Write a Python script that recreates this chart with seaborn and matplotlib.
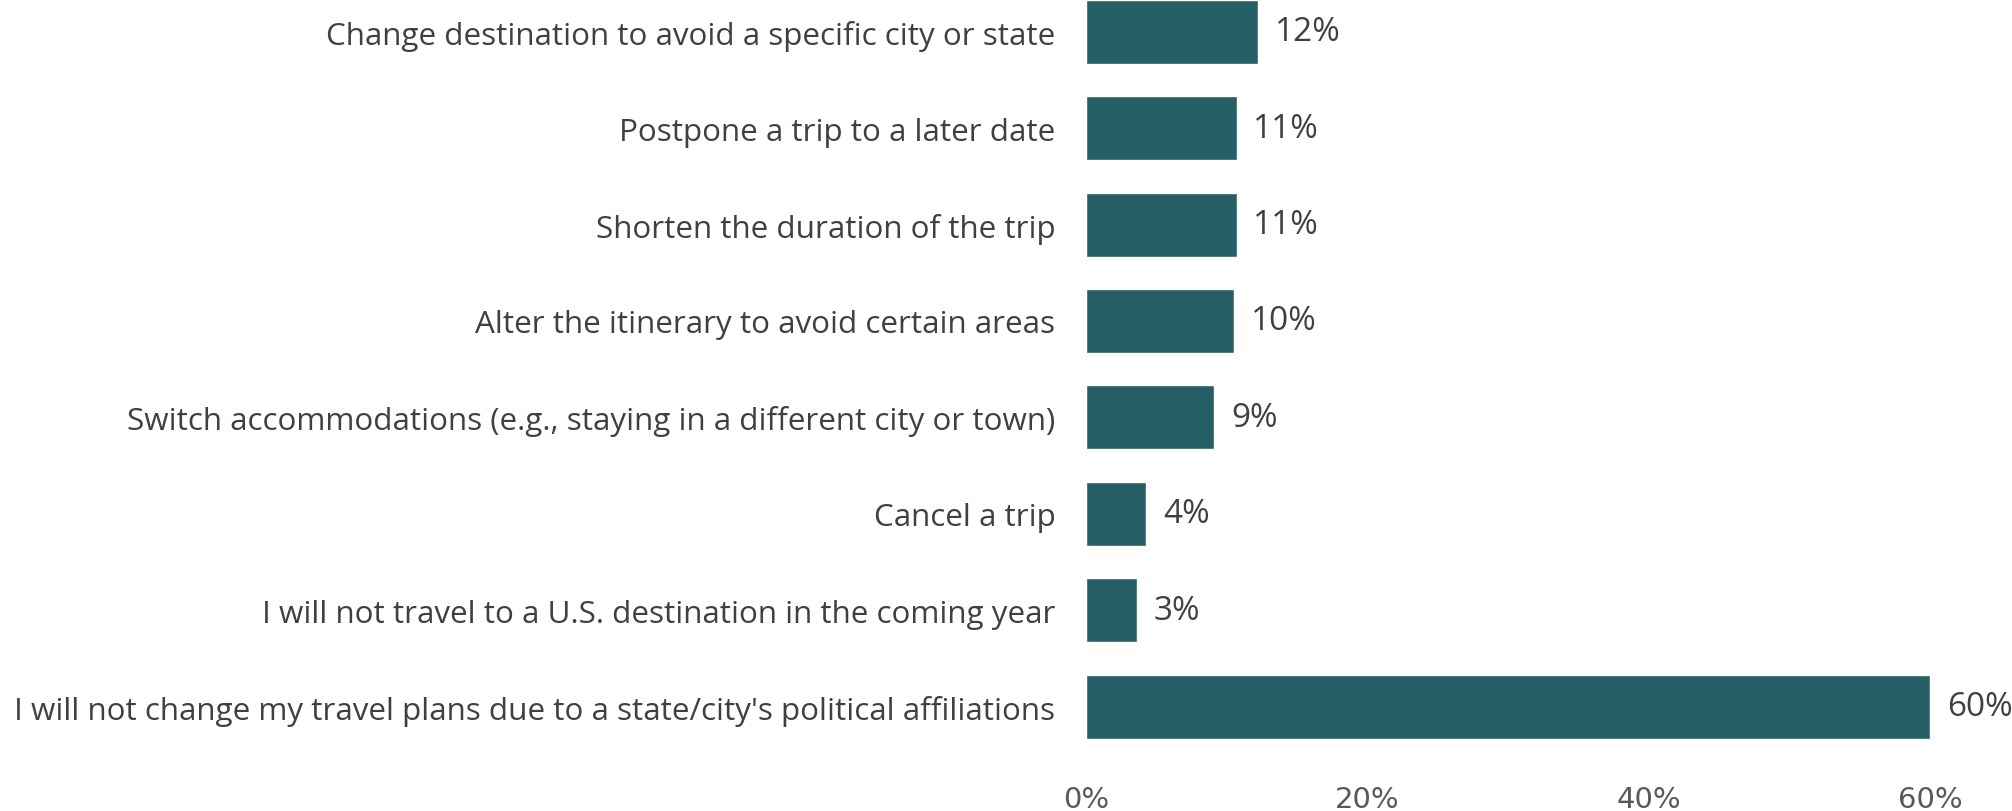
import matplotlib
matplotlib.use("Agg")
import matplotlib.pyplot as plt
import seaborn as sns
import pandas as pd

# survey answers, top to bottom
answers = [
    "Change destination to avoid a specific city or state",
    "Postpone a trip to a later date",
    "Shorten the duration of the trip",
    "Alter the itinerary to avoid certain areas",
    "Switch accommodations (e.g., staying in a different city or town)",
    "Cancel a trip",
    "I will not travel to a U.S. destination in the coming year",
    "I will not change my travel plans due to a state/city's political affiliations",
]
shares = [12.2, 10.7, 10.7, 10.5, 9.1, 4.3, 3.6, 60.0]
share_labels = ["12%", "11%", "11%", "10%", "9%", "4%", "3%", "60%"]
x_ticks = [0, 20, 40, 60]
x_tick_labels = ["0%", "20%", "40%", "60%"]

df = pd.DataFrame({"answer": answers, "share": shares})

sns.set_theme(style="white")
plt.rcParams["font.family"] = ["Open Sans", "DejaVu Sans"]

fig = plt.figure(figsize=(20.12, 8.12), dpi=100)
ax = fig.add_axes([1086 / 2012, 1 - 751 / 812, 844 / 2012, 751 / 812])

sns.barplot(data=df, x="share", y="answer", color="#265F66", saturation=1,
            width=0.663, ax=ax)

for i, (v, lab) in enumerate(zip(shares, share_labels)):
    ax.text(v + 1.2, i, lab, va="center", ha="left", fontsize=24,
            color="#404040", clip_on=False)

ax.set_xlim(0, 60)
ax.set_ylim(7.45, -0.34)
ax.set_xticks(x_ticks)
ax.set_xticklabels(x_tick_labels, fontsize=21, color="#595959",
                   family=["Liberation Sans Narrow", "DejaVu Sans"])
ax.tick_params(axis="x", length=0, pad=25)
ax.tick_params(axis="y", length=0, pad=22, labelsize=22.6, labelcolor="#404040")
ax.set_xlabel("")
ax.set_ylabel("")
sns.despine(ax=ax, left=True, bottom=True)

fig.savefig("out.png", dpi=100)
